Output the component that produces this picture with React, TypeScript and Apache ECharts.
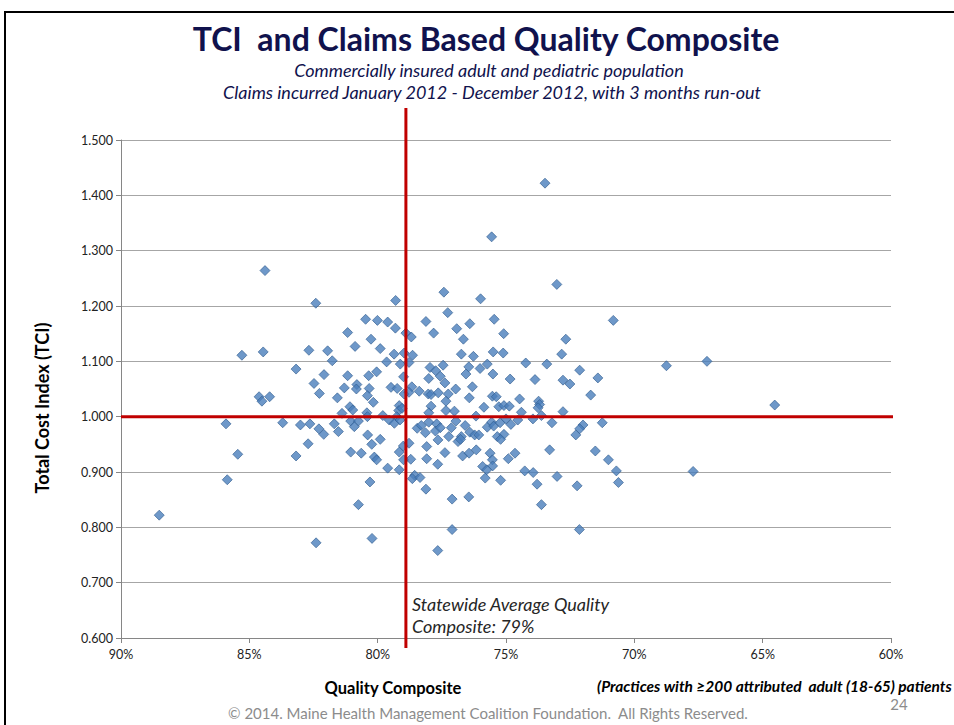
import React, { useEffect, useRef } from "react";
import * as echarts from "echarts";

// Quality composite (%) per practice
const quality: number[] = [
  84.39, 82.41, 79.30, 80.47, 80.01, 79.61, 79.31, 78.90, 81.17, 80.26,
  80.88, 79.90, 85.29, 84.46, 82.68, 81.95, 81.77, 79.36, 79.65, 79.12,
  78.97, 83.18, 82.09, 81.17, 80.35, 80.04, 82.48, 82.27, 81.57, 81.30,
  80.81, 80.83, 80.33, 80.40, 80.17, 79.48, 79.24, 78.99, 78.97, 84.62,
  84.51, 84.21, 81.08, 80.97, 81.39, 80.42, 80.40, 79.80, 79.16, 79.18,
  79.05, 79.26, 81.05, 80.75, 80.91, 79.55, 79.35, 79.13, 85.91, 83.70,
  83.01, 82.64, 82.29, 82.10, 81.69, 81.53, 80.39, 79.90, 80.23, 82.71,
  85.45, 83.18, 81.05, 80.64, 80.13, 80.04, 79.16, 79.00, 78.99, 79.61,
  79.16, 85.86, 80.30, 80.75, 88.51, 82.40, 80.22, 73.48, 75.56, 73.02,
  77.42, 75.99, 77.27, 78.12, 76.41, 75.46, 76.92, 77.82, 76.66, 75.09,
  72.67, 70.82, 78.69, 78.64, 76.74, 76.27, 75.50, 75.11, 72.83, 78.78,
  77.96, 77.74, 77.45, 77.56, 78.01, 77.38, 76.45, 76.56, 76.01, 75.73,
  75.51, 74.23, 73.41, 72.13, 68.75, 74.84, 73.87, 72.78, 72.51, 71.42,
  78.67, 78.78, 78.38, 78.03, 77.92, 77.64, 77.25, 76.96, 76.31, 77.34,
  77.92, 76.43, 75.86, 75.53, 75.38, 75.28, 75.08, 74.87, 74.47, 73.73,
  73.69, 73.75, 71.70, 72.78, 74.40, 73.95, 73.62, 73.21, 72.00, 71.25,
  72.13, 72.28, 78.01, 77.34, 77.01, 76.17, 78.46, 78.30, 78.14, 78.01,
  77.70, 77.75, 77.56, 77.13, 76.95, 76.59, 76.74, 76.41, 76.22, 75.73,
  75.56, 75.48, 75.23, 75.00, 74.81, 74.54, 75.34, 75.08, 77.23, 76.06,
  76.87, 76.77, 75.21, 77.65, 78.09, 78.78, 78.71, 78.09, 77.38, 76.69,
  76.44, 76.16, 75.62, 75.53, 75.91, 75.75, 75.52, 75.81, 75.21, 74.91,
  74.65, 74.27, 73.94, 73.79, 73.30, 73.01, 72.23, 71.52, 71.01, 70.70,
  70.62, 78.56, 78.65, 78.35, 77.66, 78.12, 77.10, 76.45, 73.62, 77.10,
  72.14, 77.66, 67.17, 64.53, 67.71,
];

// Total Cost Index per practice
const tci: number[] = [
  1.264, 1.205, 1.210, 1.176, 1.174, 1.171, 1.160, 1.151, 1.152, 1.140,
  1.127, 1.123, 1.111, 1.117, 1.120, 1.119, 1.101, 1.113, 1.099, 1.095,
  1.115, 1.086, 1.076, 1.074, 1.074, 1.081, 1.060, 1.042, 1.034, 1.052,
  1.058, 1.050, 1.051, 1.038, 1.026, 1.053, 1.051, 1.072, 1.041, 1.036,
  1.028, 1.036, 1.018, 1.012, 1.006, 1.007, 1.000, 1.002, 1.020, 1.011,
  1.015, 1.000, 0.992, 0.992, 0.982, 0.994, 0.988, 0.994, 0.987, 0.989,
  0.985, 0.987, 0.978, 0.968, 0.987, 0.973, 0.967, 0.959, 0.950, 0.951,
  0.932, 0.929, 0.936, 0.934, 0.927, 0.922, 0.936, 0.947, 0.922, 0.907,
  0.904, 0.886, 0.882, 0.841, 0.822, 0.772, 0.780, 1.422, 1.325, 1.239,
  1.225, 1.213, 1.188, 1.172, 1.168, 1.176, 1.159, 1.151, 1.140, 1.150,
  1.140, 1.174, 1.144, 1.111, 1.113, 1.109, 1.117, 1.115, 1.113, 1.098,
  1.089, 1.083, 1.093, 1.073, 1.069, 1.061, 1.090, 1.077, 1.087, 1.095,
  1.077, 1.097, 1.095, 1.084, 1.092, 1.068, 1.067, 1.066, 1.059, 1.070,
  1.054, 1.044, 1.046, 1.041, 1.040, 1.043, 1.041, 1.050, 1.054, 1.028,
  1.019, 1.034, 1.017, 1.037, 1.036, 1.018, 1.020, 1.019, 1.032, 1.028,
  1.022, 1.016, 1.039, 1.009, 1.008, 0.996, 1.002, 0.989, 0.985, 0.989,
  0.978, 0.967, 1.007, 1.011, 1.010, 1.001, 0.979, 0.984, 0.971, 0.990,
  0.987, 0.974, 0.980, 0.980, 0.992, 0.984, 0.964, 0.972, 0.967, 0.981,
  0.990, 0.983, 0.989, 0.996, 0.986, 0.994, 0.964, 0.968, 0.964, 0.967,
  0.955, 0.959, 0.959, 0.958, 0.946, 0.952, 0.923, 0.924, 0.935, 0.929,
  0.934, 0.940, 0.934, 0.922, 0.910, 0.904, 0.911, 0.889, 0.885, 0.924,
  0.934, 0.902, 0.899, 0.878, 0.940, 0.892, 0.875, 0.938, 0.922, 0.902,
  0.881, 0.894, 0.888, 0.890, 0.914, 0.869, 0.851, 0.855, 0.841, 0.796,
  0.796, 0.758, 1.100, 1.021, 0.901,
];

const xTickValues = [60, 65, 70, 75, 80, 85, 90];
const yMin = 0.6;
const yMax = 1.5;
const statewideAvgQuality = 78.9;
const tciBenchmark = 1.0;
// extents of reference lines (they overshoot the plot area)
const hLineX = [90, 59.03];
const vLineY = [1.558, 0.582];

export default function App() {
  const ref = useRef<HTMLDivElement>(null);

  useEffect(() => {
    document.body.style.margin = "0";
    const chart = echarts.init(ref.current!, null, { renderer: "svg" });
    const points = quality.map((q, i) => [q, tci[i]]);
    const navy = "#10124d";
    const font = "Lato";

    chart.setOption({
      animation: false,
      backgroundColor: "#ffffff",
      grid: { left: 121, right: 63, top: 140, bottom: 87, containLabel: false },
      xAxis: {
        type: "value",
        min: xTickValues[0],
        max: xTickValues[xTickValues.length - 1],
        interval: 5,
        inverse: true,
        axisLine: { show: true, lineStyle: { color: "#868686", width: 1 } },
        axisTick: { show: true, length: 5, lineStyle: { color: "#868686" } },
        splitLine: { show: false },
        axisLabel: {
          margin: 10,
          color: "#222",
          fontFamily: font,
          fontSize: 12.5,
          formatter: (v: number) => `${v}%`,
        },
      },
      yAxis: {
        type: "value",
        min: yMin,
        max: yMax,
        interval: 0.1,
        axisLine: { show: true, lineStyle: { color: "#868686", width: 1 } },
        axisTick: { show: true, length: 5, lineStyle: { color: "#868686" } },
        splitLine: { show: true, lineStyle: { color: "#a6a6a6", width: 1 } },
        axisLabel: {
          margin: 8,
          color: "#222",
          fontFamily: font,
          fontSize: 12.5,
          formatter: (v: number) => v.toFixed(3),
        },
      },
      series: [
        {
          type: "scatter",
          data: points,
          symbol: "diamond",
          symbolSize: 10,
          itemStyle: { color: "#4a7ebb", borderColor: "#2f5b8e", borderWidth: 0.8 },
          z: 2,
        },
        {
          type: "line",
          data: [
            [hLineX[0], tciBenchmark],
            [hLineX[1], tciBenchmark],
          ],
          clip: false,
          symbol: "none",
          lineStyle: { color: "#c00000", width: 3 },
          z: 3,
        },
        {
          type: "line",
          data: [
            [statewideAvgQuality, vLineY[0]],
            [statewideAvgQuality, vLineY[1]],
          ],
          clip: false,
          symbol: "none",
          lineStyle: { color: "#c00000", width: 3 },
          z: 3,
        },
      ],
      graphic: [
        { type: "rect", shape: { x: 4, y: 11, width: 950, height: 2 }, style: { fill: "#000" } },
        { type: "rect", shape: { x: 4, y: 11, width: 2, height: 714 }, style: { fill: "#000" } },
        {
          type: "text",
          x: 486,
          y: 38,
          style: {
            text: "TCI  and Claims Based Quality Composite",
            font: `bold 32px ${font}`,
            fill: navy,
            textAlign: "center",
            textVerticalAlign: "middle",
          },
        },
        {
          type: "text",
          x: 489,
          y: 70,
          style: {
            text: "Commercially insured adult and pediatric population",
            font: `italic 18px ${font}`,
            fill: navy,
            textAlign: "center",
            textVerticalAlign: "middle",
          },
        },
        {
          type: "text",
          x: 492,
          y: 92,
          style: {
            text: "Claims incurred January 2012 - December 2012, with 3 months run-out",
            font: `italic 18px ${font}`,
            fill: navy,
            textAlign: "center",
            textVerticalAlign: "middle",
          },
        },
        {
          type: "text",
          x: 42,
          y: 408,
          rotation: Math.PI / 2,
          style: {
            text: "Total Cost Index (TCI)",
            font: `bold 18px ${font}`,
            fill: "#000",
            textAlign: "center",
            textVerticalAlign: "middle",
          },
        },
        {
          type: "text",
          x: 393,
          y: 688,
          style: {
            text: "Quality Composite",
            font: `bold 16.5px ${font}`,
            fill: "#000",
            textAlign: "center",
            textVerticalAlign: "middle",
          },
        },
        {
          type: "text",
          x: 597,
          y: 686,
          style: {
            text: "(Practices with \u2265200 attributed  adult (18-65) patients",
            font: `italic bold 15.5px ${font}`,
            fill: "#000",
            textAlign: "left",
            textVerticalAlign: "middle",
          },
        },
        {
          type: "text",
          x: 412,
          y: 604,
          style: {
            text: "Statewide Average Quality",
            font: `italic 18px ${font}`,
            fill: "#262626",
            textAlign: "left",
            textVerticalAlign: "middle",
          },
        },
        {
          type: "text",
          x: 412,
          y: 626,
          style: {
            text: "Composite: 79%",
            font: `italic 18px ${font}`,
            fill: "#262626",
            textAlign: "left",
            textVerticalAlign: "middle",
          },
        },
        {
          type: "text",
          x: 899,
          y: 704,
          style: {
            text: "24",
            font: `15px ${font}`,
            fill: "#8c8c8c",
            textAlign: "center",
            textVerticalAlign: "middle",
          },
        },
        {
          type: "text",
          x: 488,
          y: 713,
          style: {
            text: "\u00a9 2014. Maine Health Management Coalition Foundation.  All Rights Reserved.",
            font: `15px ${font}`,
            fill: "#8c8c8c",
            textAlign: "center",
            textVerticalAlign: "middle",
          },
        },
      ],
    });
    return () => chart.dispose();
  }, []);

  return <div ref={ref} style={{ width: 954, height: 725 }} />;
}
